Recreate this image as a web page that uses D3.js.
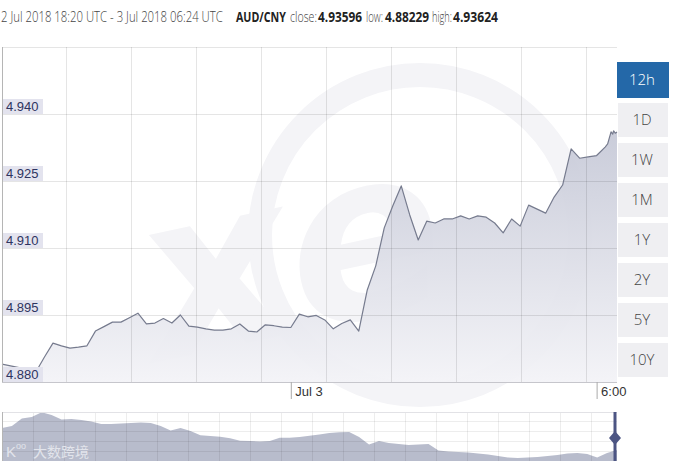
<!DOCTYPE html>
<html>
<head>
<meta charset="utf-8">
<script src="https://cdnjs.cloudflare.com/ajax/libs/d3/7.8.5/d3.min.js"></script>
<style>
  body { margin: 0; background: #fff; }
  svg { display: block; }
</style>
</head>
<body>
<div id="chart"></div>
<script>
// 10 minute quotes, then the last few minutes
const times = [
  "18:20","18:30","18:40","18:50","19:00","19:10","19:20","19:30","19:40","19:50",
  "20:00","20:10","20:20","20:30","20:40","20:50","21:00","21:10","21:20","21:30",
  "21:40","21:50","22:00","22:10","22:20","22:30","22:40","22:50","23:00","23:10",
  "23:20","23:30","23:40","23:50","00:00","00:10","00:20","00:30","00:40","00:50",
  "01:00","01:10","01:20","01:30","01:40","01:50","02:00","02:10","02:20","02:30",
  "02:40","02:50","03:00","03:10","03:20","03:30","03:40","03:50","04:00","04:10",
  "04:20","04:30","04:40","04:50","05:00","05:10","05:20","05:30","05:40","05:50",
  "06:00","06:10","06:13","06:17","06:19","06:20","06:22","06:24"
];
const rates = [
  4.8840,4.8836,4.8832,4.8828,4.88229,4.8856,4.8887,4.8881,4.8876,4.8878,
  4.8881,4.8914,4.8924,4.8934,4.8934,4.8944,4.8954,4.8930,4.8932,4.8942,
  4.8932,4.8950,4.8925,4.8923,4.8919,4.8916,4.8916,4.8919,4.8930,4.8914,
  4.8912,4.8928,4.8926,4.8923,4.8922,4.8952,4.8946,4.8949,4.8939,4.8919,
  4.8931,4.8939,4.8914,4.9006,4.9060,4.9145,4.9194,4.9239,4.9174,4.9118,
  4.9160,4.9156,4.9165,4.9165,4.9172,4.9165,4.9172,4.9169,4.9156,4.9134,
  4.9165,4.9149,4.9196,4.9187,4.9178,4.9214,4.9241,4.9322,4.9301,4.9304,
  4.9307,4.9326,4.9333,4.9360,4.9355,4.93624,4.9357,4.93596
];
const yTicks = [4.880, 4.895, 4.910, 4.925, 4.940];
const periods = ["12h", "1D", "1W", "1M", "1Y", "2Y", "5Y", "10Y"];
const header = [
  { t: "2 Jul 2018 18:20 UTC - 3 Jul 2018 06:24 UTC", b: false },
  { t: "AUD/CNY", b: true },
  { t: "close:", b: false },
  { t: "4.93596", b: true },
  { t: "low:", b: false },
  { t: "4.88229", b: true },
  { t: "high:", b: false },
  { t: "4.93624", b: true }
];
// long range series in the navigator strip
const navRates = [
  5.087,5.107,5.184,5.199,5.247,5.219,5.173,5.179,5.168,5.153,
  5.128,5.128,5.133,5.138,5.143,5.138,5.107,5.061,5.087,5.056,
  5.012,5.005,4.998,4.982,4.957,4.954,4.949,4.954,4.988,4.988,
  4.995,5.008,5.020,5.036,5.043,5.046,4.995,4.918,4.954,4.934,
  4.923,4.913,4.918,4.923,4.857,4.847,4.842,4.837,4.827,4.816,
  4.801,4.786,4.781,4.786,4.791,4.801,4.811,4.827,4.832,4.821,
  4.786,4.832,4.862
];

const W = 676, H = 461;
const pLeft = 2, pRight = 617, pTop = 47, pBottom = 382;

const parseTime = s => {
  const [h, m] = s.split(":").map(Number);
  return new Date(Date.UTC(2018, 6, h >= 18 ? 2 : 3, h, m));
};
const data = times.map((s, i) => ({ date: parseTime(s), value: rates[i] }));

const x = d3.scaleUtc()
  .domain([new Date(Date.UTC(2018, 6, 2, 18, 20)), new Date(Date.UTC(2018, 6, 3, 6, 24))])
  .range([pLeft, pRight]);
const y = d3.scaleLinear().domain([4.880, 4.955]).range([pBottom, pTop]);

const svg = d3.select("#chart").append("svg")
  .attr("width", W)
  .attr("height", H)
  .style("font-family", "'Liberation Sans', Arial, sans-serif");

const defs = svg.append("defs");
const grad = defs.append("linearGradient")
  .attr("id", "areaFill")
  .attr("gradientUnits", "userSpaceOnUse")
  .attr("x1", 0).attr("x2", 0)
  .attr("y1", y(4.94)).attr("y2", pBottom);
grad.append("stop").attr("offset", 0).attr("stop-color", "#c3c6d5");
grad.append("stop").attr("offset", 1).attr("stop-color", "#f3f3f7");

// header: each piece squeezed horizontally to the width it has in the reference
const headPos = [[1, 222], [236, 50], [290, 27], [318, 44], [366, 17], [385, 44], [432, 20], [453, 45]];
svg.append("g").attr("class", "header")
  .selectAll("text")
  .data(header)
  .enter().append("text")
  .style("font-family", "'Open Sans', sans-serif")
  .style("font-size", "15px")
  .style("font-weight", d => d.b ? 700 : 300)
  .style("fill", d => d.b ? "#222" : "#444")
  .text(d => d.t)
  .attr("transform", function(d, i) {
    const k = headPos[i][1] / this.getComputedTextLength();
    return `translate(${headPos[i][0]},22) scale(${k},1)`;
  });

// watermark
const wm = svg.append("g").attr("class", "watermark");
wm.append("circle")
  .attr("cx", 420).attr("cy", 235).attr("r", 160)
  .attr("fill", "none")
  .attr("stroke", "#f4f4f7")
  .attr("stroke-width", 24);
wm.append("text")
  .attr("x", 140).attr("y", 330)
  .attr("transform", "rotate(-12 300 260)")
  .style("font-family", "'DejaVu Sans', sans-serif")
  .style("font-weight", 700)
  .style("font-style", "italic")
  .style("font-size", "230px")
  .style("fill", "#f4f4f7")
  .text("xe");

// area + grid
svg.append("path")
  .datum(data)
  .attr("fill", "url(#areaFill)")
  .attr("opacity", 0.94)
  .attr("d", d3.area().x(d => x(d.date)).y0(pBottom).y1(d => y(d.value)));

const grid = svg.append("g").attr("class", "grid")
  .attr("stroke", "#000").attr("stroke-opacity", 0.1).attr("shape-rendering", "crispEdges");
grid.selectAll("line.h")
  .data([4.895, 4.910, 4.925, 4.940, 4.955])
  .enter().append("line")
  .attr("class", "h")
  .attr("x1", pLeft).attr("x2", pRight)
  .attr("y1", d => y(d)).attr("y2", d => y(d));
const gridStep = 76.5 * 60000;
const gridTimes = d3.range(1, 10).map(i => new Date(x.domain()[0].getTime() + i * gridStep));
grid.selectAll("line.v")
  .data(gridTimes)
  .enter().append("line")
  .attr("class", "v")
  .attr("x1", d => x(d)).attr("x2", d => x(d))
  .attr("y1", pTop).attr("y2", pBottom);

svg.append("path")
  .datum(data)
  .attr("fill", "none")
  .attr("stroke", "#767b8e")
  .attr("stroke-width", 1.2)
  .attr("stroke-linejoin", "round")
  .attr("d", d3.line().x(d => x(d.date)).y(d => y(d.value)));

// frame
svg.append("line")
  .attr("x1", pLeft).attr("x2", pLeft).attr("y1", pTop).attr("y2", pBottom)
  .attr("stroke", "#b5b5b5").attr("shape-rendering", "crispEdges");
svg.append("line")
  .attr("x1", pLeft).attr("x2", pRight).attr("y1", pBottom).attr("y2", pBottom)
  .attr("stroke", "#c6c6cc").attr("shape-rendering", "crispEdges");

// y labels
const yl = svg.append("g").selectAll("g")
  .data(yTicks)
  .enter().append("g")
  .attr("transform", d => `translate(0,${y(d)})`);
yl.append("rect")
  .attr("x", 3).attr("y", -15).attr("width", 40).attr("height", 15)
  .attr("fill", "#e3e3ee");
yl.append("text")
  .attr("x", 6).attr("y", -3)
  .style("font-size", "13px")
  .style("fill", "#2e3460")
  .text(d => d3.format(".3f")(d));

// x axis
const xAxis = d3.axisBottom(x)
  .tickValues([new Date(Date.UTC(2018, 6, 3, 0, 0)), new Date(Date.UTC(2018, 6, 3, 6, 0))])
  .tickFormat(d => d.getUTCHours() === 0 ? "Jul 3" : d3.utcFormat("%-H:%M")(d))
  .tickSize(17);
const xg = svg.append("g")
  .attr("transform", `translate(0,${pBottom})`)
  .call(xAxis);
xg.select(".domain").remove();
xg.selectAll(".tick line").attr("stroke", "#aaa");
xg.selectAll(".tick text")
  .attr("text-anchor", "start")
  .attr("x", 4).attr("y", 5).attr("dy", "0.71em")
  .style("font-family", "'Liberation Sans', Arial, sans-serif")
  .style("font-size", "13px")
  .style("fill", "#333");

// period buttons
const btn = svg.append("g").selectAll("g")
  .data(periods)
  .enter().append("g")
  .attr("transform", (d, i) => `translate(617,${62 + i * 40})`);
btn.append("rect")
  .attr("x", (d, i) => i === 0 ? 0 : 1)
  .attr("width", (d, i) => i === 0 ? 52 : 50)
  .attr("height", (d, i) => i === 0 ? 36 : 34)
  .attr("y", (d, i) => i === 0 ? 0 : 1)
  .attr("fill", (d, i) => i === 0 ? "#2468a8" : "#efeff2");
btn.append("text")
  .attr("x", 25).attr("y", 23)
  .attr("text-anchor", "middle")
  .style("font-family", "'Open Sans', sans-serif")
  .style("font-weight", 300)
  .style("font-size", "15px")
  .style("fill", (d, i) => i === 0 ? "#fff" : "#444")
  .text(d => d);

// navigator
const navTop = 412, navBottom = 461;
const navX = d3.scaleLinear().domain([0, navRates.length - 1]).range([pLeft, pRight]);
const navY = d3.scaleLinear().domain([4.75, 5.25]).range([navBottom, navTop]);
const nav = svg.append("g").attr("class", "navigator");
nav.append("path")
  .datum(navRates)
  .attr("fill", "#b8bccc")
  .attr("d", d3.area().x((d, i) => navX(i)).y0(navBottom).y1(d => navY(d)));
const navGrid = nav.append("g")
  .attr("stroke", "#000").attr("stroke-opacity", 0.07).attr("shape-rendering", "crispEdges");
navGrid.selectAll("line.h")
  .data([5.15, 5.05, 4.95, 4.85])
  .enter().append("line")
  .attr("x1", pLeft).attr("x2", pRight)
  .attr("y1", d => navY(d)).attr("y2", d => navY(d));
navGrid.selectAll("line.v")
  .data(d3.range(1, 20))
  .enter().append("line")
  .attr("x1", d => pLeft + d * 31).attr("x2", d => pLeft + d * 31)
  .attr("y1", navTop).attr("y2", navBottom);
nav.append("line")
  .attr("x1", pLeft).attr("x2", pRight).attr("y1", navTop).attr("y2", navTop)
  .attr("stroke", "#e2e2e6").attr("shape-rendering", "crispEdges");
nav.append("line")
  .attr("x1", pLeft).attr("x2", pLeft).attr("y1", navTop).attr("y2", navBottom)
  .attr("stroke", "#b5b5b5").attr("shape-rendering", "crispEdges");

// 大数跨境 watermark
nav.append("text")
  .attr("x", 33).attr("y", 457)
  .style("font-family", "'Noto Sans CJK SC', sans-serif")
  .style("font-size", "14px")
  .style("fill", "#e2e4eb")
  .text("大数跨境");
nav.append("text")
  .attr("x", 6).attr("y", 457)
  .style("font-size", "15px")
  .style("fill", "#e2e4eb")
  .text("K");
nav.append("text")
  .attr("x", 16).attr("y", 449)
  .style("font-size", "9px")
  .style("fill", "#e2e4eb")
  .text("oo");

const hx = navX(navRates.length - 1) - 2;
nav.append("line")
  .attr("x1", hx).attr("x2", hx).attr("y1", navTop).attr("y2", navBottom)
  .attr("stroke", "#4c5583").attr("stroke-width", 3);
nav.append("path")
  .attr("d", `M${hx},${431} L${hx + 6},${438} L${hx},${445} L${hx - 6},${438} Z`)
  .attr("fill", "#4c5583");
</script>
</body>
</html>
